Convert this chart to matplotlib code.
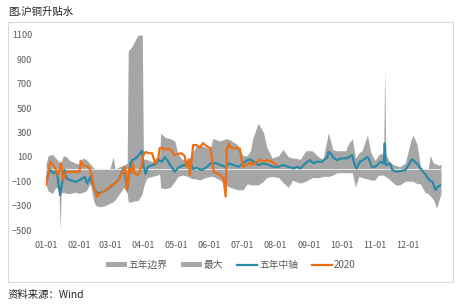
import matplotlib
matplotlib.use("Agg")
import matplotlib.pyplot as plt
from matplotlib.patches import Patch, Rectangle
from matplotlib.lines import Line2D
import numpy as np

plt.rcParams['font.family'] = ['Noto Sans CJK SC', 'DejaVu Sans']

# day of year (0 = 01-01)
band_day = [0, 2, 6, 9, 12, 13, 14, 16, 19, 22, 27, 31, 34, 37, 41, 44, 46, 50, 55, 59,
            62, 64, 68, 72, 75, 76, 79, 82, 85, 89, 90, 93, 98, 103, 105, 106, 110, 115, 119, 122,
            126, 131, 135, 138, 142, 147, 152, 154, 161, 166, 170, 177, 182, 186, 189, 191, 196, 201, 204, 209,
            215, 219, 224, 228, 230, 235, 240, 246, 252, 256, 261, 265, 269, 277, 279, 283, 286, 289, 292, 297,
            300, 304, 307, 309, 312, 313, 314, 318, 323, 327, 332, 337, 339, 343, 346, 350, 353, 355, 358, 361,
            363, 365]
band_max = [40, 110, 120, 90, 60, 60, 60, 110, 100, 70, 50, 40, 90, 80, 40, 10, 0, 0, 0, 0,
            100, 0, 20, 30, 50, 970, 1000, 1050, 1100, 1100, 80, 80, 60, 100, 100, 295, 260, 250, 230, 120,
            80, 70, 120, 180, 200, 180, 170, 250, 230, 250, 240, 200, 110, 110, 150, 250, 375, 300, 180, 90,
            110, 160, 100, 90, 90, 80, 150, 150, 100, 80, 300, 160, 150, 150, 200, 250, 90, 130, 150, 280,
            140, 70, 110, 130, 120, 830, 120, 50, 30, 20, 50, 230, 280, 200, 20, -10, -10, 110, 50, 40,
            30, 40]
band_min = [-130, -180, -200, -150, -170, -500, -200, -190, -200, -200, -190, -200, -190, -180, -120, -260, -300, -310, -300, -280,
            -270, -250, -200, -150, -200, -270, -270, -260, -260, -200, -150, -75, -60, -50, -40, -155, -160, -150, -100, -60,
            -50, -60, -80, -80, -90, -70, -60, -60, -90, -130, -150, -170, -170, -120, -130, -130, -130, -100, -70, -60,
            -70, -110, -150, -90, -100, -115, -100, -70, -70, -60, -60, -50, -30, -30, -30, -30, -150, -60, -70, -80,
            -90, -90, -50, -50, -50, -60, -60, -90, -130, -130, -100, -100, -100, -120, -120, -190, -200, -220, -250, -320,
            -260, -200]

mid_day = [0, 4, 7, 10, 13, 17, 19, 22, 28, 31, 36, 38, 41, 45, 48, 53, 58, 62, 67, 70,
           72, 75, 78, 80, 84, 87, 89, 90, 92, 94, 98, 101, 104, 107, 110, 113, 116, 119, 122, 127,
           130, 133, 136, 139, 144, 149, 153, 158, 161, 166, 169, 173, 178, 182, 186, 189, 192, 196, 201, 206,
           210, 215, 219, 224, 229, 232, 235, 240, 244, 247, 250, 255, 260, 261, 263, 266, 269, 273, 278, 283,
           284, 286, 287, 290, 293, 297, 298, 301, 304, 306, 309, 312, 313, 314, 318, 320, 324, 329, 332, 335,
           338, 341, 344, 347, 351, 354, 357, 360, 362, 365]
mid_val = [-90, -8, -35, -20, -213, -8, -76, -90, -105, -90, -65, -120, -65, -172, -200, -185, -158, -130, -90, -30,
           15, -172, 49, 74, 95, 131, 150, 30, -40, 16, 33, 40, 74, 60, 98, 60, 16, -22, 10, 33,
           33, 57, 0, 10, -8, 20, 50, 47, 33, 19, 47, 33, 19, 47, 74, 80, 60, 33, 47, 33,
           19, 19, 33, 19, 5, 19, 5, 49, 74, 47, 60, 60, 98, 140, 129, 88, 74, 88, 88, 115,
           74, 19, 5, 60, 74, 100, 88, 19, 19, 33, 60, 47, 211, 33, 47, -8, -22, -14, -8, 33,
           80, 60, 33, -8, -49, -90, -104, -172, -145, -131]

y2020_day = [0, 4, 7, 10, 11, 14, 16, 18, 19, 31, 32, 34, 39, 41, 44, 47, 50, 55, 59, 64,
             68, 71, 73, 75, 77, 79, 80, 82, 85, 88, 90, 92, 95, 98, 99, 101, 102, 104, 105, 107,
             110, 113, 116, 119, 122, 125, 128, 130, 132, 133, 136, 139, 142, 145, 148, 152, 155, 158, 161, 164,
             166, 167, 169, 170, 173, 179, 181, 182, 186, 189, 190, 193, 195, 198, 201, 204, 209, 213]
y2020_val = [-131, 60, 33, -22, -49, 47, -90, -35, -22, -22, 68, 33, 19, -8, -131, -227, -200, -172, -145, -117,
             -76, -22, 19, -170, 10, -30, 47, -35, -50, 10, 115, 140, 130, 130, 100, 50, 60, 100, 172, 175,
             160, 170, 150, 115, 125, 130, 110, 19, 80, -50, 197, 197, 175, 213, 190, 172, -22, -35, -49, -76,
             -227, 156, 211, 183, 170, 170, 60, 19, 33, 60, 33, 47, 60, 80, 60, 74, 60, 33]

month_day = [0, 31, 59, 90, 120, 151, 181, 212, 243, 273, 304, 334]
month_lab = ['01-01', '02-01', '03-01', '04-01', '05-01', '06-01', '07-01', '08-01',
             '09-01', '10-01', '11-01', '12-01']
yticks = [-500, -300, -100, 100, 300, 500, 700, 900, 1100]

gray = '#a6a6a6'
blue = '#2a8aa6'
orange = '#ec6f16'

fig = plt.figure(figsize=(4.6, 3.05), dpi=100)
fig.patches.append(Rectangle((8/460, 1-282/305), 445/460, 260/305, transform=fig.transFigure,
                             fill=False, edgecolor='#d9d9d9', lw=0.8))
ax = fig.add_axes([46/460, 1-230/305, 395/460, 195/305])

ax.fill_between(band_day, 0, band_max, color=gray, lw=0)
ax.fill_between(band_day, band_min, 0, color=gray, lw=0)
ax.axhline(0, color='#e6e6e6', lw=0.8)
ax.plot(mid_day, mid_val, color=blue, lw=1.6)
ax.plot(y2020_day, y2020_val, color=orange, lw=1.6)

ax.set_xlim(0, 365)
ax.set_ylim(-500, 1100)
ax.set_xticks(month_day)
ax.set_xticklabels(month_lab)
ax.set_yticks(yticks)
for s in ax.spines.values():
    s.set_visible(False)
ax.tick_params(axis='both', length=0, labelsize=6.5, colors='#595959')
ax.tick_params(axis='y', pad=10)
ax.tick_params(axis='x', pad=8)

handles = [Patch(facecolor=gray), Patch(facecolor=gray),
           Line2D([], [], color=blue, lw=1.6), Line2D([], [], color=orange, lw=1.6)]
labels = ['五年边界', '最大', '五年中轴', '2020']
leg = ax.legend(handles, labels, loc='center', bbox_to_anchor=(231/460, 1-265/305),
                bbox_transform=fig.transFigure, ncol=4, frameon=False, fontsize=7,
                handlelength=2.1, handleheight=0.45, columnspacing=1.4, handletextpad=0.2)
for t in leg.get_texts():
    t.set_color('#595959')

fig.text(8/460, 1-12/305, '图.沪铜升贴水', fontsize=7.5, va='center', ha='left', color='#222222')
fig.text(8/460, 1-295/305, '资料来源：Wind', fontsize=7.5, va='center', ha='left', color='#222222')

fig.savefig('out.png', dpi=100)
